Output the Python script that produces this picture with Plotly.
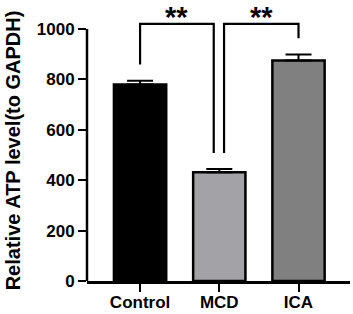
import plotly.graph_objects as go

categories = ["Control", "MCD", "ICA"]
means = [780, 432, 875]
errors = [15, 12, 24]
fills = ["#000000", "#a3a3a7", "#808080"]
y_ticks = [0, 200, 400, 600, 800, 1000]
comparisons = [(0, 1, "**"), (1, 2, "**")]

FONT = "Liberation Sans, Arial, sans-serif"
L, R, T, B = 87, 3, 0, 33
W, H = 353, 314
PW = W - L - R

fig = go.Figure()
fig.add_trace(go.Bar(
    x=list(range(len(categories))), y=means,
    width=0.66,
    marker=dict(color=fills, line=dict(color="#000000", width=2.5)),
    error_y=dict(type="data", array=errors, arrayminus=[0]*len(errors), symmetric=False,
                 color="#000000", thickness=2, width=13),
))

# y axis line only up to 1000
fig.add_shape(type="line", xref="paper", yref="y", x0=0, x1=0, y0=0, y1=max(y_ticks),
              line=dict(color="#000000", width=2.5))

gap = 64
top = 1020
for i, j, label in comparisons:
    yi = means[i] + errors[i] + gap
    yj = means[j] + errors[j] + gap
    xi = i if i == 0 else i + 0.06
    xj = j if j == 2 else j - 0.07
    fig.add_shape(type="path",
                  path=f"M {xi} {yi} L {xi} {top} L {xj} {top} L {xj} {yj}",
                  line=dict(color="#000000", width=2.2), xref="x", yref="y")
    fig.add_annotation(x=(xi + xj) / 2, xref="x", y=1.0, yref="paper",
                       text=f"<b>{label}</b>", showarrow=False,
                       font=dict(family=FONT, size=29, color="#000000"),
                       xanchor="center", yanchor="top", borderpad=0)

fig.add_annotation(xref="paper", yref="paper", x=(13 - L) / PW, y=0.465,
                   text="<b>Relative ATP level(to GAPDH)</b>", textangle=-90,
                   showarrow=False, xanchor="center", yanchor="middle",
                   font=dict(family=FONT, size=20, color="#000000"))

fig.update_layout(
    width=W, height=H,
    margin=dict(l=L, r=R, t=T, b=B, autoexpand=False),
    plot_bgcolor="white", paper_bgcolor="white",
    showlegend=False,
    xaxis=dict(range=[-0.67, 2.65], tickvals=list(range(len(categories))),
               ticktext=[f"<b>{c}</b>" for c in categories],
               showline=True, linecolor="#000000", linewidth=2.5,
               ticks="outside", ticklen=8, tickwidth=2, tickcolor="#000000",
               tickfont=dict(family=FONT, size=17, color="#000000"),
               ticklabelstandoff=-4,
               showgrid=False, zeroline=False, automargin=False),
    yaxis=dict(range=[0, 1115], tickvals=y_ticks,
               ticktext=[f"<b>{t}</b>" for t in y_ticks],
               showline=False, ticks="outside", ticklen=8, tickwidth=2, tickcolor="#000000",
               tickfont=dict(family=FONT, size=17, color="#000000"),
               showgrid=False, zeroline=False, automargin=False),
)

fig.write_html("out.html", config={"displayModeBar": False},
               post_script="document.body.style.margin='0';document.body.style.overflow='hidden';")
